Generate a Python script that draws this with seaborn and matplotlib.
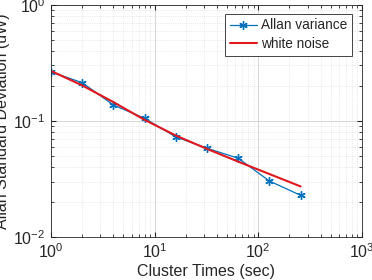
import numpy as np
import pandas as pd
import matplotlib as mpl
mpl.use("Agg")
from matplotlib import pyplot as plt
import seaborn as sns

# cluster times (sec) and measured Allan deviation
tau = [1, 2, 4, 8, 16, 32, 64, 128, 256]
allan_dev = [0.264, 0.213, 0.137, 0.105, 0.0727, 0.058, 0.0476, 0.0303, 0.0228]
# white noise fit
white_noise = [0.269, 0.202, 0.145, 0.102, 0.0747, 0.0573, 0.0445, 0.0348, 0.0272]

sns.set_style("ticks")
plt.rcParams['font.family'] = ['Liberation Sans', 'DejaVu Sans']
plt.rcParams['font.size'] = 11.5

df = pd.DataFrame({"tau": tau, "Allan variance": allan_dev, "white noise": white_noise})

fig = plt.figure(figsize=(3.72, 2.8), dpi=100)
ax = fig.add_axes([0.137, 0.154, 0.836, 0.829])

sns.lineplot(data=df, x="tau", y="Allan variance", ax=ax, color="#0072BD",
             marker=(6, 2, 0), markersize=6, markeredgewidth=1.0,
             markeredgecolor="#0072BD", linewidth=0.9, label="Allan variance")
sns.lineplot(data=df, x="tau", y="white noise", ax=ax, color="#E0191E",
             linewidth=1.5, label="white noise")

ax.set_xscale("log")
ax.set_yscale("log")
ax.set_xlim(1, 1000)
ax.set_ylim(0.01, 1)
ax.set_xlabel("Cluster Times (sec)", color="#262626", labelpad=2)
ax.set_ylabel("Allan Standard Deviation (uW)", color="#262626", labelpad=2)

ax.grid(which="major", color="#d0d0d0", linewidth=0.6, linestyle="-")
ax.grid(which="minor", color="#d8d8d8", linewidth=0.5, linestyle=":")
ax.tick_params(which="both", direction="in", top=True, right=True, colors="#262626",
               labelsize=11.5)
ax.tick_params(which="major", length=3.5, pad=4)
ax.tick_params(which="minor", length=2)
for sp in ax.spines.values():
    sp.set_visible(True)
    sp.set_color("#262626")
    sp.set_linewidth(0.6)

leg = ax.legend(loc="upper right", bbox_to_anchor=(0.968, 0.962), fancybox=False,
                framealpha=1, edgecolor="#262626", handlelength=2.0,
                borderpad=0.35, labelspacing=0.35, handletextpad=0.3,
                borderaxespad=0, fontsize=9.8)
leg.get_frame().set_linewidth(0.6)

fig.savefig("out.png", dpi=100)
